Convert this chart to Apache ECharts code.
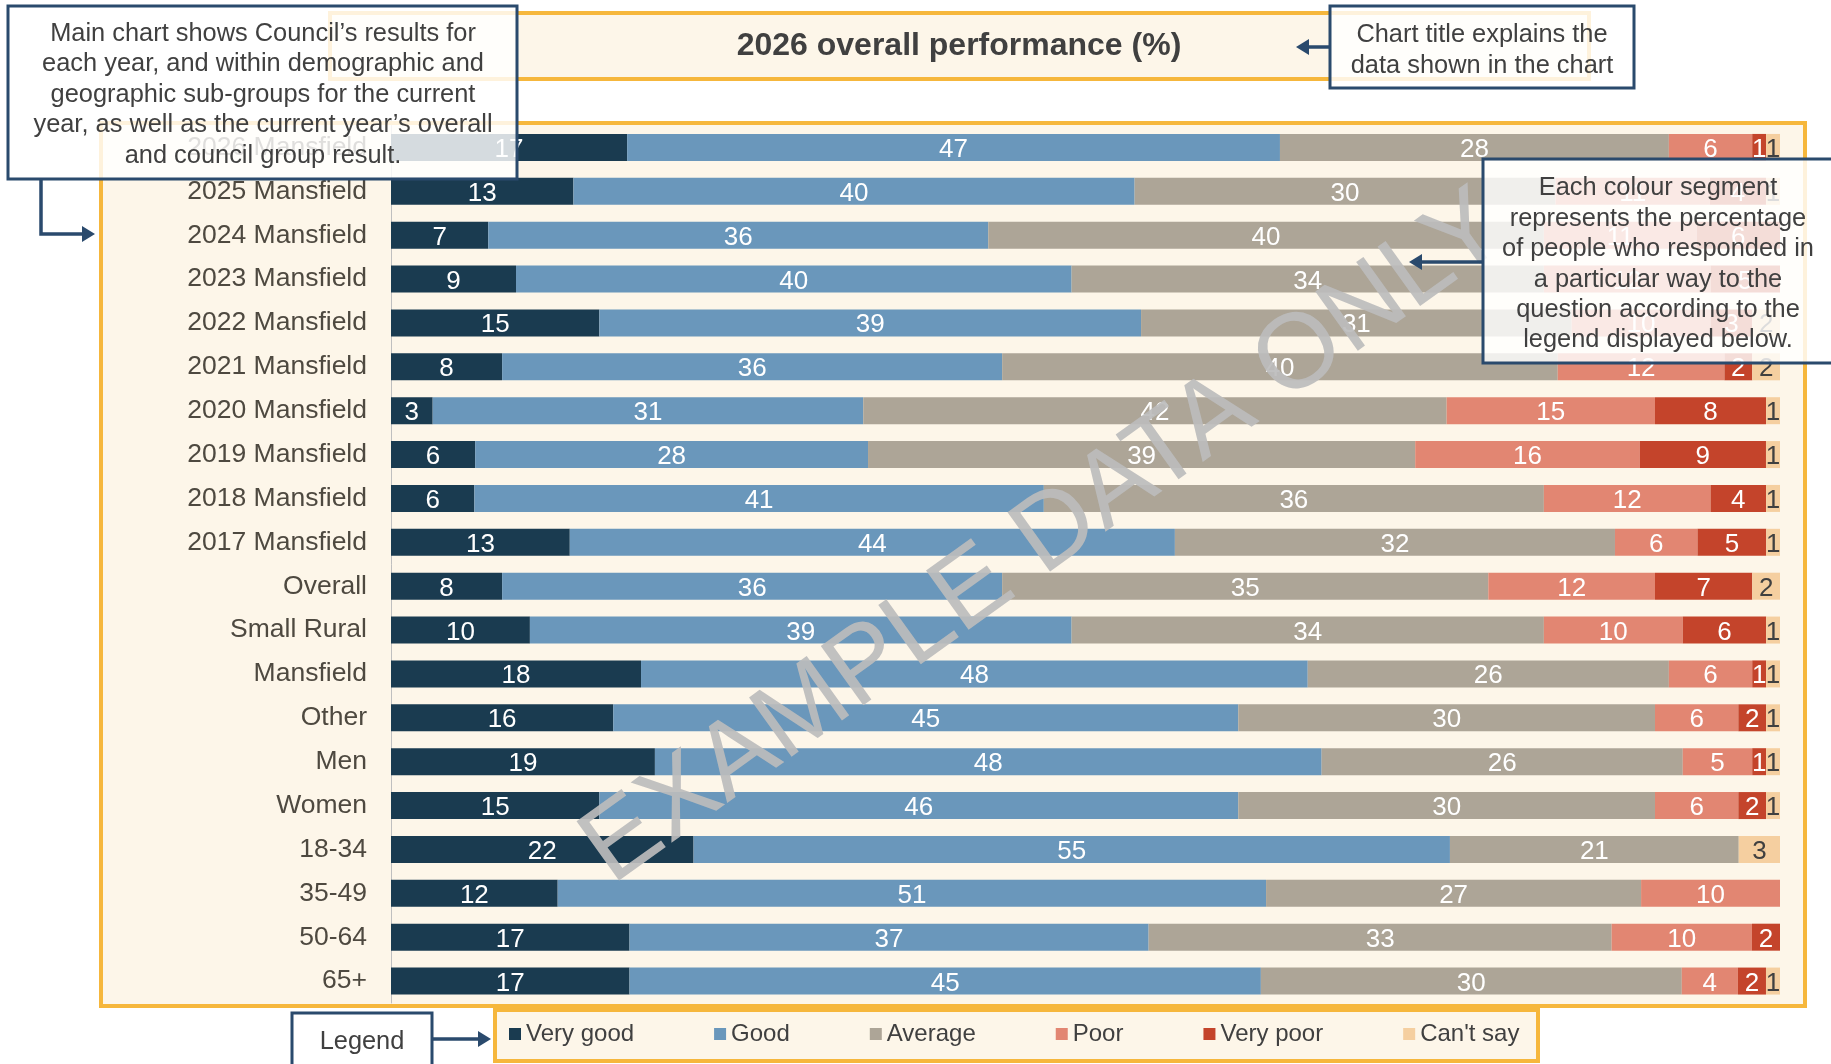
<!DOCTYPE html>
<html>
<head>
<meta charset="utf-8">
<title>2026 overall performance (%)</title>
<script src="https://cdn.jsdelivr.net/npm/echarts@6/dist/echarts.min.js"></script>
<style>
  html, body { margin: 0; padding: 0; background: #fff; }
  #main { width: 1831px; height: 1064px; }
</style>
</head>
<body>
<div id="main"></div>
<script>
// rows, top to bottom
const categories = [
  '2026 Mansfield', '2025 Mansfield', '2024 Mansfield', '2023 Mansfield', '2022 Mansfield',
  '2021 Mansfield', '2020 Mansfield', '2019 Mansfield', '2018 Mansfield', '2017 Mansfield',
  'Overall', 'Small Rural', 'Mansfield', 'Other', 'Men', 'Women',
  '18-34', '35-49', '50-64', '65+'
];
const veryGood = [17, 13, 7, 9, 15, 8, 3, 6, 6, 13, 8, 10, 18, 16, 19, 15, 22, 12, 17, 17];
const good     = [47, 40, 36, 40, 39, 36, 31, 28, 41, 44, 36, 39, 48, 45, 48, 46, 55, 51, 37, 45];
const average  = [28, 30, 40, 34, 31, 40, 42, 39, 36, 32, 35, 34, 26, 30, 26, 30, 21, 27, 33, 30];
const poor     = [6, 11, 11, 12, 10, 12, 15, 16, 12, 6, 12, 10, 6, 6, 5, 6, 0, 10, 10, 4];
const veryPoor = [1, 4, 6, 5, 3, 2, 8, 9, 4, 5, 7, 6, 1, 2, 1, 2, 0, 0, 2, 2];
const cantSay  = [1, 1, 0, 0, 2, 2, 1, 1, 1, 1, 2, 1, 1, 1, 1, 1, 3, 0, 0, 1];

const seriesNames = ['Very good', 'Good', 'Average', 'Poor', 'Very poor', "Can't say"];
const seriesColors = ['#1a3b50', '#6a97bb', '#ada597', '#e28672', '#c4442b', '#f5cfa0'];
const labelColors = ['#fff', '#fff', '#fff', '#fff', '#fff', '#404040'];

const FONT = '"Liberation Sans", Arial, sans-serif';
const CREAM = '#fdf6e9';
const ORANGE = '#f6b73c';
const NAVY = '#2a4a6d';
const NOTE_FONT = '25.4px ' + FONT;

const rawRows = [veryGood, good, average, poor, veryPoor, cantSay];
// each bar is shown as 100%, labels keep the rounded figures
const totals = categories.map((c, i) => rawRows.reduce((s, arr) => s + arr[i], 0));

const series = rawRows.map((arr, k) => ({
  name: seriesNames[k],
  type: 'bar',
  stack: 'total',
  barWidth: 27,
  itemStyle: { color: seriesColors[k] },
  label: {
    show: true,
    position: 'inside',
    offset: [0, 2.3],
    color: labelColors[k],
    fontSize: 26,
    fontFamily: FONT,
    formatter: p => (arr[p.dataIndex] ? String(arr[p.dataIndex]) : '')
  },
  data: arr.map((v, i) => v * 100 / totals[i])
}));

function arrowHead(tipX, tipY, dir) {
  // dir: 1 points right, -1 points left
  return {
    type: 'polygon',
    shape: { points: [[tipX, tipY], [tipX - dir * 13, tipY - 8], [tipX - dir * 13, tipY + 8]] },
    style: { fill: NAVY },
    z: 30
  };
}

function noteBox(x, y, w, h, text, cx, cy) {
  return [
    {
      type: 'rect',
      shape: { x: x, y: y, width: w, height: h },
      style: { fill: 'rgba(255,255,255,0.82)', stroke: NAVY, lineWidth: 3 },
      z: 30
    },
    {
      type: 'text',
      x: cx,
      y: cy + 2.3,
      style: {
        text: text,
        font: NOTE_FONT,
        fill: '#404040',
        lineHeight: 30.4,
        align: 'center', verticalAlign: 'middle',
        textAlign: 'center', textVerticalAlign: 'middle'
      },
      z: 31
    }
  ];
}

var myChart = echarts.init(document.getElementById('main'));
myChart.setOption({
  backgroundColor: '#fff',
  animation: false,
  grid: { left: 391, width: 1389, top: 125.5, height: 877.5 },
  xAxis: { type: 'value', min: 0, max: 100, show: false },
  yAxis: {
    type: 'category',
    inverse: true,
    data: categories,
    axisLine: { show: true, lineStyle: { color: '#bfbfbf', width: 1 } },
    axisTick: { show: false },
    axisLabel: { fontSize: 26.5, color: '#4e4940', fontFamily: FONT, margin: 24, padding: [4.6, 0, 0, 0] }
  },
  legend: {
    data: seriesNames,
    left: 509,
    top: 1022,
    padding: 0,
    icon: 'rect',
    itemWidth: 12,
    itemHeight: 12,
    itemGap: 80,
    textStyle: { fontSize: 24, color: '#404040', fontFamily: FONT }
  },
  graphic: [
    // title box, chart box, legend box
    { type: 'rect', shape: { x: 330, y: 13, width: 1259, height: 66 }, style: { fill: CREAM, stroke: ORANGE, lineWidth: 4 }, z: 0 },
    { type: 'rect', shape: { x: 101, y: 123, width: 1704, height: 883 }, style: { fill: CREAM, stroke: ORANGE, lineWidth: 4 }, z: 0 },
    { type: 'rect', shape: { x: 495, y: 1010, width: 1043, height: 51 }, style: { fill: CREAM, stroke: ORANGE, lineWidth: 4 }, z: 0 },
    {
      type: 'text', x: 959, y: 46,
      style: {
        text: '2026 overall performance (%)',
        font: 'bold 32px ' + FONT,
        fill: '#404040',
        align: 'center', verticalAlign: 'middle',
        textAlign: 'center', textVerticalAlign: 'middle'
      },
      z: 5
    },
    // watermark
    {
      type: 'text', x: 1045, y: 539, rotation: 0.622,
      style: {
        text: 'EXAMPLE DATA ONLY',
        font: '106px ' + FONT,
        fill: 'rgba(188,188,188,0.92)',
        align: 'center', verticalAlign: 'middle',
        textAlign: 'center', textVerticalAlign: 'middle'
      },
      z: 20
    },
    // notes
    ...noteBox(8, 6, 509, 173,
      'Main chart shows Council\u2019s results for\neach year, and within demographic and\ngeographic sub-groups for the current\nyear, as well as the current year\u2019s overall\nand council group result.', 263, 92.5),
    ...noteBox(1330, 6, 304, 82, 'Chart title explains the\ndata shown in the chart', 1482, 48),
    ...noteBox(1483, 159, 360, 204,
      'Each colour segment\nrepresents the percentage\nof people who responded in\na particular way to the\nquestion according to the\nlegend displayed below.', 1658, 262),
    ...noteBox(292, 1013, 140, 60, 'Legend', 362, 1040),
    // arrows
    { type: 'polyline', shape: { points: [[41, 179], [41, 234], [84, 234]] }, style: { stroke: NAVY, lineWidth: 3.5, fill: null }, z: 30 },
    arrowHead(95, 234, 1),
    { type: 'line', shape: { x1: 1330, y1: 47, x2: 1306, y2: 47 }, style: { stroke: NAVY, lineWidth: 3.5 }, z: 30 },
    arrowHead(1296, 47, -1),
    { type: 'line', shape: { x1: 1483, y1: 262, x2: 1419, y2: 262 }, style: { stroke: NAVY, lineWidth: 3.5 }, z: 30 },
    arrowHead(1409, 262, -1),
    { type: 'line', shape: { x1: 432, y1: 1039, x2: 480, y2: 1039 }, style: { stroke: NAVY, lineWidth: 3.5 }, z: 30 },
    arrowHead(491, 1039, 1)
  ],
  series: series
});
</script>
</body>
</html>
